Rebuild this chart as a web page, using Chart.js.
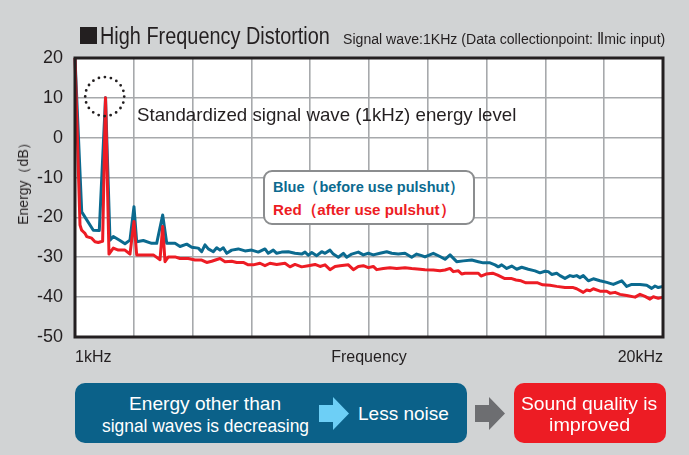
<!DOCTYPE html>
<html><head><meta charset="utf-8">
<script src="https://cdn.jsdelivr.net/npm/chart.js@4.4.1/dist/chart.umd.min.js"></script>
<style>
html,body{margin:0;padding:0;background:#d1d3d4;}
#wrap{position:relative;width:689px;height:455px;overflow:hidden;background:#d1d3d4;font-family:"Liberation Sans",Arial,Helvetica,sans-serif;color:#231f20;}
#c{position:absolute;left:0;top:0;}
.t{position:absolute;white-space:nowrap;line-height:1;transform-origin:0 50%;}
.box{position:absolute;border-radius:10px;}
.arrow{position:absolute;width:30px;height:33px;clip-path:polygon(0 8px,14px 8px,14px 0,30px 16.5px,14px 33px,14px 25px,0 25px);}
</style>
</head><body>
<div id="wrap">
<canvas id="c" width="689" height="455"></canvas>
<div style="position:absolute;left:80px;top:27px;width:17px;height:17px;background:#231f20;"></div>
<div class="t fit" data-w="230" style="left:100px;top:24.5px;font-size:23px;">High Frequency Distortion</div>
<div class="t fit" data-w="322" style="left:343px;top:31px;font-size:15.5px;">Signal wave:1KHz (Data collectionpoint: Ⅱmic input)</div>
<div class="t" style="left:23px;top:180px;font-size:14px;transform-origin:50% 50%;transform:translate(-50%,-50%) rotate(-90deg);">Energy（dB）</div>
<div class="t fit" data-w="379" style="left:137px;top:106px;font-size:18.5px;">Standardized signal wave (1kHz) energy level</div>
<div style="position:absolute;left:263px;top:170px;width:208px;height:51px;border:2.5px solid #8b8d8f;border-radius:9px;background:#fff;"></div>
<div class="t fit" data-w="191" style="left:273px;top:179.2px;font-size:15.5px;font-weight:bold;color:#0b6a8f;">Blue（before use pulshut）</div>
<div class="t fit" data-w="182" style="left:273px;top:201.9px;font-size:15.5px;font-weight:bold;color:#ed1c24;">Red（after use pulshut）</div>
<div class="box" style="left:75px;top:383px;width:392px;height:60px;background:#0b6189;"></div>
<div class="box" style="left:514px;top:383px;width:152px;height:60px;background:#ed1c24;"></div>
<div class="arrow" style="left:319px;top:397px;background:#6dcff6;"></div>
<div class="arrow" style="left:475px;top:397px;background:#6d6e71;"></div>
<div class="t fit" data-w="152" data-cx="205" style="top:394px;font-size:19px;color:#fff;">Energy other than</div>
<div class="t fit" data-w="207" data-cx="205" style="top:416px;font-size:19px;color:#fff;">signal waves is decreasing</div>
<div class="t fit" data-w="91" style="left:358px;top:404px;font-size:19px;color:#fff;">Less noise</div>
<div class="t fit" data-w="136" data-cx="589" style="top:393.5px;font-size:19px;color:#fff;">Sound quality is</div>
<div class="t fit" data-w="81" data-cx="589" style="top:415px;font-size:19px;color:#fff;">improved</div>
</div>
<script>
// Frequency position (0 = 1kHz, 100 = 20kHz) and energy (dB)
const blueFreq = [0,1.14,3.11,4.13,5.19,5.95,6.51,7.65,8.5,9.35,10.03,10.49,11.62,13.04,13.89,14.91,15.6,17.01,17.86,19.0,19.85,20.97,21.55,22.11,22.67,23.52,24.1,24.66,25.22,25.8,26.65,27.77,28.91,30.05,31.17,32.31,32.87,33.72,34.3,35.15,36.28,37.41,38.55,39.12,39.68,40.26,41.11,41.96,42.52,43.37,43.93,44.78,45.63,46.21,47.06,48.18,49.03,49.88,50.73,51.87,53.01,53.86,54.98,56.12,57.26,58.11,58.96,59.52,60.94,62.07,62.93,63.78,64.91,66.04,67.47,68.59,69.44,70.58,71.43,71.99,72.57,73.42,74.27,75.12,75.97,77.09,78.23,79.08,79.93,80.49,81.07,81.92,82.48,83.33,84.18,84.74,85.32,85.88,86.44,87.3,88.15,89.29,90.43,91.55,92.98,93.83,94.68,96.09,97.23,98.08,98.64,99.2,100];
const blueEnergy = [20,-18.6,-23.2,-23.3,10,-25.7,-24.8,-25.8,-26.6,-25.7,-17.3,-26.1,-25.8,-26.5,-26.5,-19.4,-26.5,-26.5,-27.3,-26.7,-27.5,-27.7,-28.6,-26.9,-27.9,-28.6,-27.6,-28.2,-27.6,-29.0,-28.2,-27.9,-28.4,-28.2,-28.7,-27.9,-29.0,-28.2,-29.0,-28.7,-28.6,-29.0,-29.2,-28.7,-29.5,-28.8,-29.6,-28.6,-29.0,-28.2,-29.2,-30.0,-29.0,-30.0,-29.2,-28.7,-29.4,-29.0,-29.4,-29.0,-28.6,-29.0,-29.2,-29.0,-30.0,-29.2,-29.6,-29.9,-29.0,-29.8,-30.5,-29.4,-31.1,-30.9,-30.7,-31.1,-31.4,-31.4,-31.9,-32.4,-31.9,-32.8,-32.2,-33.0,-32.5,-33.0,-33.4,-33.9,-33.5,-33.6,-34.3,-34.0,-34.6,-35.3,-34.6,-34.8,-34.6,-35.1,-34.6,-35.9,-35.4,-35.9,-36.3,-36.8,-35.9,-37.3,-36.8,-36.8,-37.0,-37.8,-37.2,-37.6,-37.3];
const redFreq = [0,0.85,1.13,1.41,1.7,1.99,2.84,3.4,3.96,4.37,4.7,5.19,5.78,6.51,7.37,8.5,9.35,10.03,10.49,11.34,13.32,14.46,14.91,15.31,15.87,17.01,17.86,19.27,20.41,21.55,22.11,22.4,23.25,24.66,25.51,26.65,27.5,28.62,29.47,30.32,31.46,32.31,33.16,34.3,35.71,36.56,37.41,38.55,39.68,40.82,41.67,42.52,43.37,44.22,45.07,46.49,47.34,48.18,49.03,49.88,50.73,51.31,52.43,53.57,54.71,56.12,57.26,58.67,59.52,60.94,62.07,62.93,63.78,64.34,65.2,65.76,66.33,67.74,68.59,69.05,69.9,71.03,71.89,73.02,74.15,75.0,75.85,76.7,77.84,78.69,79.54,80.78,81.92,83.33,84.74,85.32,86.44,87.02,87.59,88.15,89.29,90.43,90.99,91.84,92.69,93.83,95.24,96.09,96.94,97.79,98.36,99.2,100];
const redEnergy = [20,-21.9,-23.2,-23.6,-24.0,-24.8,-25.2,-26.1,-26.3,-26.1,-26.0,10,-29.2,-27.7,-28.2,-28.2,-29.2,-21.0,-29.4,-29.4,-29.4,-30.6,-22.3,-31.1,-29.9,-29.9,-30.3,-30.3,-30.7,-30.7,-31.1,-31.3,-31.0,-30.3,-31.1,-31.0,-31.3,-31.3,-31.9,-31.9,-31.5,-32.1,-31.5,-31.8,-31.5,-32.4,-31.8,-32.4,-32.1,-31.8,-32.3,-31.9,-33.1,-32.3,-32.1,-31.9,-33.1,-32.3,-32.1,-32.6,-32.3,-33.1,-32.8,-32.6,-32.8,-32.6,-32.8,-33.0,-33.1,-33.2,-33.4,-33.2,-32.8,-33.6,-33.4,-34.2,-34.0,-34.0,-34.0,-34.7,-34.2,-34.0,-34.5,-35.3,-35.3,-35.7,-35.9,-36.4,-36.4,-36.4,-36.9,-37.0,-37.3,-37.6,-37.6,-37.9,-38.8,-38.2,-38.4,-37.9,-38.5,-38.5,-39.0,-38.8,-39.3,-39.6,-40.0,-39.3,-39.8,-40.5,-39.9,-40.3,-40.0];
const xLabelAt = [0, 50, 100];
const xLabelText = ['1kHz', 'Frequency', '20kHz'];
const signalFreq = 5.19, signalEnergy = 10;

document.querySelectorAll('.fit').forEach(el => {
  const w = el.offsetWidth;
  const target = +el.dataset.w;
  if (el.dataset.cx) el.style.left = (+el.dataset.cx - target / 2) + 'px';
  el.style.transform = 'scaleX(' + (target / w) + ')';
});

Chart.defaults.font.family = '"Liberation Sans", Arial, Helvetica, sans-serif';
const INK = '#231f20', GRID = '#a7a9ac';

const bgPlugin = {
  id: 'bg',
  beforeDraw(chart) {
    const {ctx, chartArea: a} = chart;
    ctx.save(); ctx.fillStyle = '#fff';
    ctx.fillRect(a.left, a.top, a.right - a.left, a.bottom - a.top);
    ctx.restore();
  },
  afterDraw(chart) {
    const {ctx, chartArea: a, scales} = chart;
    ctx.save();
    ctx.strokeStyle = INK; ctx.lineWidth = 3;
    ctx.strokeRect(a.left, a.top, a.right - a.left, a.bottom - a.top);
    const cx = scales.x.getPixelForValue(signalFreq) - 0.8;
    const cy = scales.y.getPixelForValue(signalEnergy) - 1.3;
    ctx.beginPath();
    ctx.setLineDash([0, 6.1]); ctx.lineCap = 'round'; ctx.lineWidth = 2.8;
    ctx.arc(cx, cy, 19.5, 0, Math.PI * 2);
    ctx.stroke();
    ctx.restore();
  }
};

new Chart(document.getElementById('c'), {
  type: 'line',
  data: {
    datasets: [
      { label: 'Red (after use pulshut)', data: redFreq.map((f, i) => ({x: f, y: redEnergy[i]})),
        borderColor: '#ed1c24', borderWidth: 3, pointRadius: 0, tension: 0, clip: false, borderJoinStyle: 'round' },
      { label: 'Blue (before use pulshut)', data: blueFreq.map((f, i) => ({x: f, y: blueEnergy[i]})),
        borderColor: '#0b6a8f', borderWidth: 3, pointRadius: 0, tension: 0, clip: false, borderJoinStyle: 'round' }
    ]
  },
  options: {
    responsive: false, animation: false, devicePixelRatio: 1,
    layout: { padding: { top: 58, right: 26, left: 0, bottom: 0 } },
    plugins: { legend: { display: false }, tooltip: { enabled: false } },
    scales: {
      x: {
        type: 'linear', min: 0, max: 100,
        ticks: { stepSize: 10, autoSkip: false, maxRotation: 0, align: 'inner', padding: 11, color: INK, font: { size: 16 },
          callback: v => { const i = xLabelAt.indexOf(v); return i >= 0 ? xLabelText[i] : ''; } },
        grid: { color: GRID, lineWidth: 1.6, drawTicks: false },
        border: { display: false },
        afterFit: s => { s.height = 118; }
      },
      y: {
        min: -50, max: 20,
        ticks: { stepSize: 10, padding: 12, color: INK, font: { size: 18 } },
        grid: { color: GRID, lineWidth: 1.6, drawTicks: false },
        border: { display: false },
        afterFit: s => { s.width = 75; }
      }
    }
  },
  plugins: [bgPlugin]
});
</script>
</body></html>
